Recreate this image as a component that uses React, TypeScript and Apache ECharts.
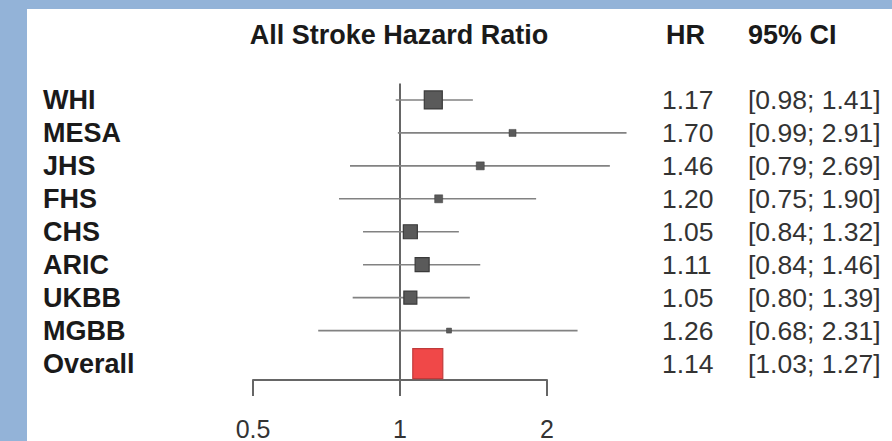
import React, { useEffect, useRef } from "react";
import * as echarts from "echarts";

const studies = ["WHI", "MESA", "JHS", "FHS", "CHS", "ARIC", "UKBB", "MGBB", "Overall"];
const hr = [1.17, 1.7, 1.46, 1.2, 1.05, 1.11, 1.05, 1.26, 1.14];
const ciLow = [0.98, 0.99, 0.79, 0.75, 0.84, 0.84, 0.8, 0.68, 1.03];
const ciHigh = [1.41, 2.91, 2.69, 1.9, 1.32, 1.46, 1.39, 2.31, 1.27];
const boxSizes = [18, 7, 8, 8, 14, 14, 13, 5, 30];
const xTicks = [0.5, 1, 2];
const titleText = "All Stroke Hazard Ratio";
const hrHeader = "HR";
const ciHeader = "95% CI";

const FONT = "'Liberation Sans', Arial, Helvetica, sans-serif";

export default function App() {
  const ref = useRef<HTMLDivElement>(null);

  useEffect(() => {
    if (!ref.current) return;
    const chart = echarts.init(ref.current, null, { renderer: "svg" });
    const n = studies.length;
    const overallIdx = n - 1;
    const rows = studies.map((s, i) => [i, hr[i], ciLow[i], ciHigh[i], boxSizes[i]]);

    const headerStyle = (text: string, align: string) => ({
      text,
      fontSize: 27,
      fontWeight: "bold",
      fontFamily: FONT,
      fill: "#1a1a1a",
      align,
      verticalAlign: "middle",
    });

    const option: any = {
      animation: false,
      backgroundColor: "transparent",
      grid: { left: 253, right: 345, top: 83.5, bottom: 60.5 },
      xAxis: {
        type: "log",
        logBase: 2,
        min: xTicks[0],
        max: xTicks[xTicks.length - 1],
        position: "bottom",
        splitLine: { show: false },
        axisLine: { show: true, onZero: false, lineStyle: { color: "#666", width: 2 } },
        axisTick: { show: true, length: 16, lineStyle: { color: "#666", width: 2 } },
        minorTick: { show: false },
        axisLabel: {
          margin: 36,
          fontSize: 25,
          fontFamily: FONT,
          color: "#333",
          formatter: (v: number) => String(+Number(v).toFixed(2)),
        },
      },
      yAxis: {
        type: "value",
        inverse: true,
        min: -0.5,
        max: n - 0.5,
        show: false,
      },
      graphic: [
        { type: "text", x: 399, y: 35, style: headerStyle(titleText, "center") },
        { type: "text", x: 666, y: 35, style: headerStyle(hrHeader, "left") },
        { type: "text", x: 748, y: 35, style: headerStyle(ciHeader, "left") },
      ],
      series: [
        {
          type: "line",
          data: [
            [1, -0.5],
            [1, n - 0.5],
          ],
          symbol: "none",
          lineStyle: { color: "#666", width: 2 },
          z: 1,
          silent: true,
        },
        {
          type: "custom",
          clip: false,
          z: 3,
          data: rows,
          renderItem: (params: any, api: any) => {
            const idx = api.value(0);
            const est = api.value(1);
            const lo = api.value(2);
            const hi = api.value(3);
            const size = api.value(4);
            const c = api.coord([est, idx]);
            const pLo = api.coord([lo, idx]);
            const pHi = api.coord([hi, idx]);
            const isOverall = idx === overallIdx;
            const children: any[] = [];
            if (!isOverall) {
              children.push({
                type: "line",
                shape: { x1: pLo[0], y1: pLo[1], x2: pHi[0], y2: pHi[1] },
                style: { stroke: "#828282", lineWidth: 1.6 },
              });
            }
            children.push({
              type: "rect",
              shape: { x: c[0] - size / 2, y: c[1] - size / 2, width: size, height: size },
              style: isOverall
                ? { fill: "#f04848", stroke: "#c03a3a", lineWidth: 1.2 }
                : { fill: "#5a5a5a", stroke: "#3a3a3a", lineWidth: size > 9 ? 1.2 : 0.5 },
            });
            return { type: "group", children };
          },
        },
        {
          type: "custom",
          clip: false,
          z: 4,
          data: rows,
          renderItem: (params: any, api: any) => {
            const idx = api.value(0);
            const y = api.coord([1, idx])[1];
            const i = params.dataIndex;
            return {
              type: "group",
              children: [
                {
                  type: "text",
                  x: 43,
                  y,
                  style: {
                    text: studies[i],
                    fontSize: 27,
                    fontWeight: "bold",
                    fontFamily: FONT,
                    fill: "#1a1a1a",
                    align: "left",
                    verticalAlign: "middle",
                  },
                },
                {
                  type: "text",
                  x: 662,
                  y,
                  style: {
                    text: hr[i].toFixed(2),
                    fontSize: 26.5,
                    fontFamily: FONT,
                    fill: "#333",
                    align: "left",
                    verticalAlign: "middle",
                  },
                },
                {
                  type: "text",
                  x: 748,
                  y,
                  style: {
                    text: "[" + ciLow[i].toFixed(2) + "; " + ciHigh[i].toFixed(2) + "]",
                    fontSize: 26.5,
                    fontFamily: FONT,
                    fill: "#333",
                    align: "left",
                    verticalAlign: "middle",
                  },
                },
              ],
            };
          },
        },
      ],
    };
    chart.setOption(option);
    return () => chart.dispose();
  }, []);

  return (
    <div style={{ position: "fixed", left: 0, top: 0, width: 892, height: 441, background: "#93b3d8", overflow: "hidden" }}>
      <div style={{ position: "absolute", left: 27, top: 9, width: 865, height: 432, background: "#ffffff" }} />
      <div ref={ref} style={{ position: "absolute", left: 0, top: 0, width: 892, height: 441 }} />
    </div>
  );
}
